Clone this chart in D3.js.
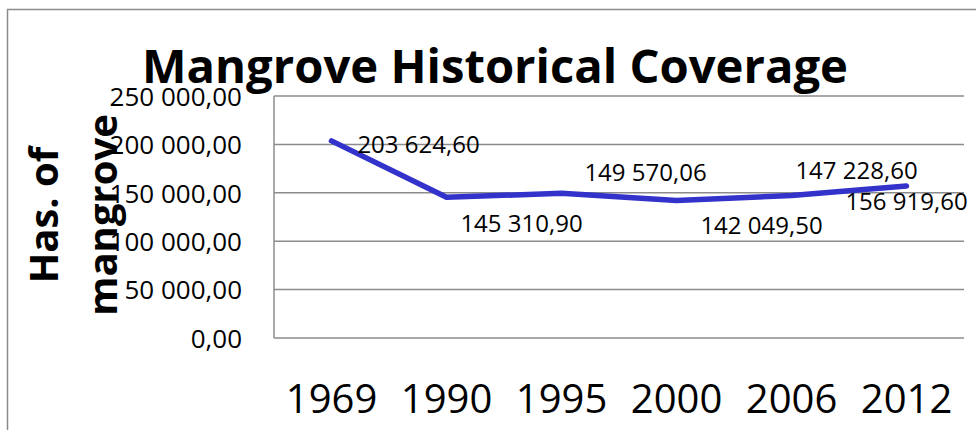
<!DOCTYPE html>
<html>
<head>
<meta charset="utf-8">
<script src="https://cdn.jsdelivr.net/npm/d3@7"></script>
<style>
  html, body { margin: 0; padding: 0; background: #fff; }
  svg { display: block; }
  text { font-family: "Open Sans", "Noto Sans", sans-serif; fill: #000; }
</style>
</head>
<body>
<svg id="chart" width="976" height="430"></svg>
<script>
const years = ["1969", "1990", "1995", "2000", "2006", "2012"];
const coverage = [203624.60, 145310.90, 149570.06, 142049.50, 147228.60, 156919.60];
const yTicks = [0, 50000, 100000, 150000, 200000, 250000];
const titleText = "Mangrove Historical Coverage";
const yTitleLines = ["Has. of", "mangrove"];

// label placement offsets (layout, px) relative to each point
const labelDx = [87, 75, 84, 85, 65, 0];
const labelDy = [3, 26, -21, 25, -25, 15];

const svg = d3.select("#chart");
const W = 976, H = 430;
const plot = { left: 274, right: 964, top: 96, bottom: 338 };

const locale = d3.formatLocale({ decimal: ",", thousands: "\u00a0", grouping: [3], currency: ["", ""] });
const fmt = locale.format(",.2f");

// outer chart border
svg.append("path")
  .attr("d", `M7.5,${H + 5} L7.5,9.5 L${W + 5},9.5`)
  .attr("fill", "none").attr("stroke", "#8c8c8c").attr("stroke-width", 1.5);

const x = d3.scaleBand().domain(years).range([plot.left, plot.right]);
const y = d3.scaleLinear().domain([0, 250000]).range([plot.bottom, plot.top]);

// gridlines
svg.append("g").selectAll("line").data(yTicks.filter(d => d > 0)).join("line")
  .attr("x1", plot.left).attr("x2", plot.right)
  .attr("y1", d => y(d)).attr("y2", d => y(d))
  .attr("stroke", "#8c8c8c").attr("stroke-width", 1.5);

// left axis line & bottom axis line
svg.append("line").attr("x1", plot.left).attr("x2", plot.left)
  .attr("y1", plot.top).attr("y2", plot.bottom)
  .attr("stroke", "#8c8c8c").attr("stroke-width", 1.5);
svg.append("line").attr("x1", plot.left).attr("x2", plot.right)
  .attr("y1", plot.bottom).attr("y2", plot.bottom)
  .attr("stroke", "#8c8c8c").attr("stroke-width", 1.5);

// y tick labels
const yAxis = d3.axisLeft(y).tickValues(yTicks).tickFormat(fmt).tickSize(0).tickPadding(0);
const gy = svg.append("g").attr("transform", `translate(242,0)`).call(yAxis);
gy.select(".domain").remove();
gy.selectAll("text")
  .attr("font-size", 26)
  .attr("font-family", "'Open Sans', sans-serif")
  .attr("fill", "#000")
  .attr("x", 0)
  .attr("dy", "0.36em");

// x tick labels
const xAxis = d3.axisBottom(x).tickSize(0).tickPadding(0);
const gx = svg.append("g").attr("transform", `translate(0,${plot.bottom})`).call(xAxis);
gx.select(".domain").remove();
gx.selectAll("text")
  .attr("font-size", 40)
  .attr("font-family", "'Open Sans', sans-serif")
  .attr("fill", "#000")
  .attr("y", 75)
  .attr("dy", 0);

// line
const line = d3.line()
  .x((d, i) => x(years[i]) + x.bandwidth() / 2)
  .y(d => y(d));
svg.append("path")
  .datum(coverage)
  .attr("d", line)
  .attr("fill", "none")
  .attr("stroke", "#3333cc")
  .attr("stroke-width", 5.5)
  .attr("stroke-linejoin", "round")
  .attr("stroke-linecap", "round");

// data labels
svg.append("g").selectAll("text").data(coverage).join("text")
  .attr("x", (d, i) => x(years[i]) + x.bandwidth() / 2 + labelDx[i])
  .attr("y", (d, i) => y(d) + labelDy[i])
  .attr("dy", "0.36em")
  .attr("text-anchor", "middle")
  .attr("font-size", 24)
  .text(d => fmt(d));

// title
svg.append("text")
  .attr("x", 495).attr("y", 83)
  .attr("text-anchor", "middle")
  .attr("font-size", 46)
  .attr("font-weight", "bold")
  .attr("textLength", 706)
  .attr("lengthAdjust", "spacingAndGlyphs")
  .text(titleText);

// y axis title
const yTitle = svg.append("g").attr("transform", "translate(0,215) rotate(-90)");
yTitle.selectAll("text").data(yTitleLines).join("text")
  .attr("x", 0)
  .attr("y", (d, i) => 58 + i * 59)
  .attr("text-anchor", "middle")
  .attr("font-size", 40)
  .attr("font-weight", "bold")
  .text(d => d);
</script>
</body>
</html>
